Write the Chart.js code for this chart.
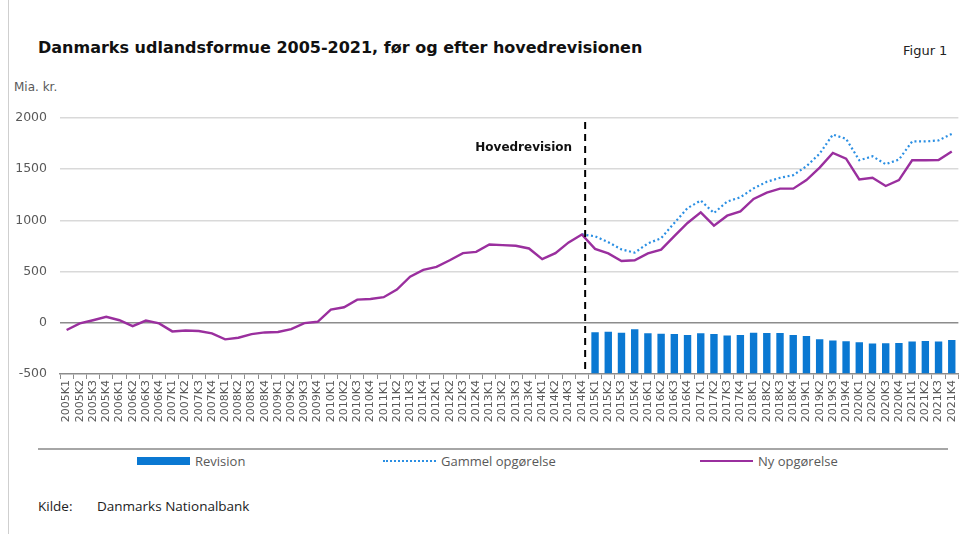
<!DOCTYPE html>
<html>
<head>
<meta charset="utf-8">
<script src="https://cdn.jsdelivr.net/npm/chart.js@4"></script>
<style>
  body { margin: 0; width: 966px; height: 534px; background: #fff; position: relative; overflow: hidden; font-family: "Open Sans", sans-serif; }
  .frame { position: absolute; left: 8px; top: 0; width: 1px; height: 534px; background: #cfcfcf; }
  #title { position: absolute; left: 38px; top: 38px; font: bold 16px "DejaVu Sans", sans-serif; color: #111; white-space: nowrap; }
  #fig { position: absolute; left: 903px; top: 43px; font: 13px "DejaVu Sans", sans-serif; color: #222; }
  #unit { position: absolute; left: 14px; top: 80px; font: 12px "DejaVu Sans", sans-serif; color: #595959; }
  #chartBox { position: absolute; left: 0; top: 0; }
  .rule { position: absolute; left: 38px; top: 448px; width: 910px; height: 2px; background: #a6a6a6; }
  #legend { position: absolute; left: 0; top: 452px; width: 966px; height: 20px; font-size: 13px; color: #595959; }
  .item { position: absolute; top: 0; white-space: nowrap; display: flex; align-items: center; }
  .swatch { display: inline-block; width: 53px; margin-right: 5px; }
  #source { position: absolute; left: 38px; top: 497px; font-size: 13.5px; color: #222; }
  #source span { position: absolute; left: 59px; white-space: nowrap; }
</style>
</head>
<body>
<div class="frame"></div>
<div id="title">Danmarks udlandsformue 2005-2021, før og efter hovedrevisionen</div>
<div id="fig">Figur 1</div>
<div id="unit">Mia. kr.</div>
<div id="chartBox"><canvas id="chart" width="966" height="445"></canvas></div>
<div class="rule"></div>
<div id="legend"></div>
<div id="source">Kilde:<span>Danmarks Nationalbank</span></div>
<script>
// quarters 2005K1 - 2021K4
const years = [2005, 2006, 2007, 2008, 2009, 2010, 2011, 2012, 2013, 2014, 2015, 2016, 2017, 2018, 2019, 2020, 2021];
const quarters = ['K1', 'K2', 'K3', 'K4'];
const labels = [];
years.forEach(y => quarters.forEach(q => labels.push(y + q)));

// Ny opgørelse (mia. kr.)
const nyOpgoerelse = [
  -70, -5, 25, 58, 25, -33, 22, -6, -84, -75, -80, -103,
  -162, -146, -110, -94, -90, -61, -3, 10, 129, 152, 226, 232,
  250, 325, 451, 517, 546, 611, 680, 693, 765, 759, 752, 726,
  621, 680, 785, 863, 722, 678, 604, 611, 678, 714, 846, 975,
  1078, 949, 1046, 1087, 1210, 1271, 1310, 1310, 1394, 1516, 1658, 1603,
  1400, 1416, 1336, 1394, 1587, 1587, 1590, 1674
];

// Gammel opgørelse, only from 2014K4
const gammelOpgoerelse = [
  null, null, null, null, null, null, null, null, null, null, null, null,
  null, null, null, null, null, null, null, null, null, null, null, null,
  null, null, null, null, null, null, null, null, null, null, null, null,
  null, null, null, 863, 845, 787, 717, 685, 775, 826, 975, 1120,
  1194, 1072, 1184, 1226, 1313, 1377, 1416, 1442, 1529, 1652, 1838, 1797,
  1587, 1626, 1549, 1594, 1771, 1771, 1781, 1845
];

// Revision, from 2015K1
const revision = [
  null, null, null, null, null, null, null, null, null, null, null, null,
  null, null, null, null, null, null, null, null, null, null, null, null,
  null, null, null, null, null, null, null, null, null, null, null, null,
  null, null, null, null, -93, -87, -97, -63, -103, -107, -110, -120,
  -103, -110, -123, -120, -97, -100, -100, -120, -130, -160, -173, -180,
  -190, -203, -200, -197, -183, -177, -183, -167
];

const yTicks = [-500, 0, 500, 1000, 1500, 2000];
const revisionStart = '2014K4';
const revisionLabel = 'Hovedrevision';

const blue = '#0a78d2';
const dotBlue = '#2b8fe3';
const purple = '#9a2f9e';
const grey = '#595959';

// dashed line between 2014K4 and 2015K1 with label
const revisionLine = {
  id: 'revisionLine',
  afterDatasetsDraw(chart) {
    const { ctx, chartArea, scales } = chart;
    const i = labels.indexOf(revisionStart);
    const x0 = scales.x.getPixelForValue(i);
    const x1 = scales.x.getPixelForValue(i + 1);
    const x = x0 + (x1 - x0) * 0.25;
    ctx.save();
    ctx.strokeStyle = '#000';
    ctx.lineWidth = 2;
    ctx.setLineDash([7, 5]);
    ctx.beginPath();
    ctx.moveTo(x, chartArea.top + 4);
    ctx.lineTo(x, chartArea.bottom);
    ctx.stroke();
    ctx.setLineDash([]);
    ctx.fillStyle = '#111';
    ctx.font = 'bold 12px "DejaVu Sans", sans-serif';
    ctx.textAlign = 'right';
    ctx.textBaseline = 'middle';
    ctx.fillText(revisionLabel, x - 13, chartArea.top + 30);
    ctx.restore();
  }
};

const chart = new Chart(document.getElementById('chart'), {
  type: 'bar',
  data: {
    labels: labels,
    datasets: [
      {
        type: 'bar',
        label: 'Revision',
        data: revision,
        base: -500,
        backgroundColor: blue,
        barPercentage: 0.56,
        categoryPercentage: 1,
        order: 3
      },
      {
        type: 'line',
        label: 'Gammel opgørelse',
        data: gammelOpgoerelse,
        borderColor: dotBlue,
        borderWidth: 2.2,
        borderDash: [2, 2.6],
        pointRadius: 0,
        tension: 0,
        order: 2
      },
      {
        type: 'line',
        label: 'Ny opgørelse',
        data: nyOpgoerelse,
        borderColor: purple,
        borderWidth: 2.4,
        pointRadius: 0,
        tension: 0,
        order: 1
      }
    ]
  },
  options: {
    responsive: false,
    animation: false,
    layout: { padding: { top: 118, right: 5, left: 0, bottom: 0 } },
    plugins: {
      legend: { display: false },
      tooltip: { enabled: false }
    },
    scales: {
      x: {
        offset: true,
        border: { color: '#8c8c8c', width: 1.5 },
        grid: { drawOnChartArea: false, drawTicks: true, tickLength: 5, color: '#8c8c8c', offset: true },
        ticks: {
          autoSkip: false, minRotation: 90, maxRotation: 90, padding: 1,
          color: grey, font: { family: 'DejaVu Sans', size: 11 }
        },
        afterFit(scale) { scale.height = 71; }
      },
      y: {
        min: -500,
        max: 2000,
        afterBuildTicks(scale) { scale.ticks = yTicks.map(v => ({ value: v })); },
        border: { display: false },
        grid: {
          drawTicks: false,
          lineWidth: 1.5,
          color: ctx => ctx.tick.value === 0 ? '#8c8c8c' : (ctx.tick.value === -500 ? 'rgba(0,0,0,0)' : '#d9d9d9')
        },
        ticks: {
          padding: 13, color: grey, font: { family: 'DejaVu Sans', size: 12.5 },
          callback: v => String(v)
        },
        afterFit(scale) { scale.width = 60; }
      }
    }
  },
  plugins: [revisionLine]
});

// html legend from the datasets
const legendPos = [137, 383, 700];
const legend = document.getElementById('legend');
chart.data.datasets.forEach((ds, i) => {
  const item = document.createElement('div');
  item.className = 'item';
  item.style.left = legendPos[i] + 'px';
  const sw = document.createElement('span');
  sw.className = 'swatch';
  if (ds.type === 'bar') {
    sw.style.height = '8px';
    sw.style.background = ds.backgroundColor;
  } else if (ds.borderDash) {
    sw.style.borderTop = '2px dotted ' + ds.borderColor;
  } else {
    sw.style.borderTop = '2px solid ' + ds.borderColor;
  }
  item.appendChild(sw);
  item.appendChild(document.createTextNode(ds.label));
  legend.appendChild(item);
});
</script>
</body>
</html>
